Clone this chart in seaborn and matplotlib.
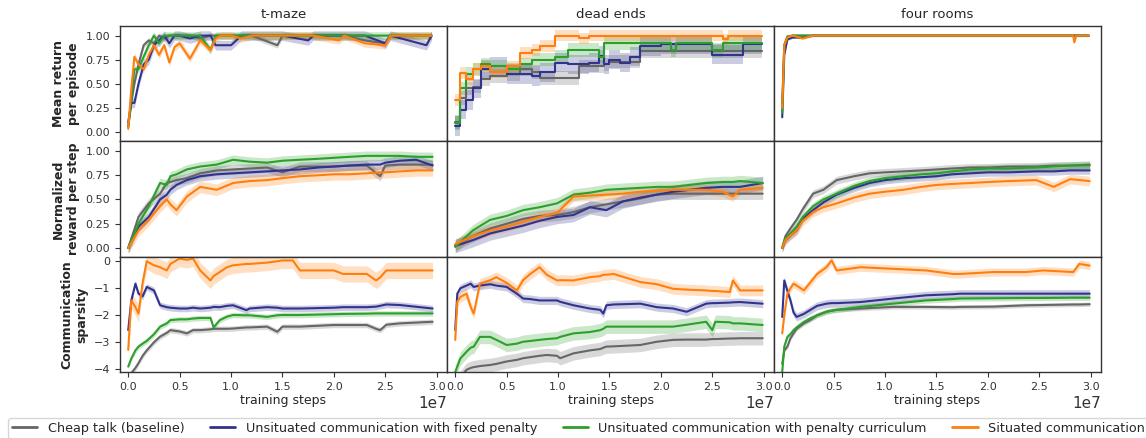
import numpy as np
import pandas as pd
import matplotlib
matplotlib.use("Agg")
import matplotlib.pyplot as plt
import seaborn as sns

# ---------------- labels ----------------
METHODS = ["Cheap talk (baseline)",
           "Unsituated communication with fixed penalty",
           "Unsituated communication with penalty curriculum",
           "Situated communication"]
COLORS = ["#666666", "#32338c", "#2ca02c", "#ff7f0e"]
ENVS = ["t-maze", "dead ends", "four rooms"]
METRICS = ["Mean return\nper episode", "Normalized\nreward per step", "Communication\nsparsity"]

# ---------------- data (x in units of 1e7 training steps) ----------------
# Row 1: mean return per episode
TM_RET_X = [0, 0.03, 0.06, 0.1, 0.15, 0.2, 0.25, 0.3, 0.35, 0.4, 0.45, 0.5, 0.6, 0.7, 0.8, 0.85,
            0.9, 1.0, 1.1, 1.2, 1.45, 1.5, 1.75, 1.8, 2.05, 2.1, 2.3, 2.5, 2.55, 2.9, 2.95]
TM_RET_CHEAP = [0.05, 0.3, 0.5, 0.7, 0.9, 0.95, 0.92, 1.0, 0.97, 1.0, 1.0, 1.0, 1.0, 0.97, 1.0, 1.0,
                1.0, 1.0, 1.0, 1.0, 0.9, 1.0, 1.0, 1.0, 1.0, 1.0, 0.95, 0.92, 1.0, 1.0, 1.0]
TM_RET_FIXED = [0.1, 0.3, 0.3, 0.5, 0.7, 0.75, 0.9, 0.95, 1.0, 0.92, 1.0, 1.0, 0.97, 1.0, 1.0, 0.9,
                0.9, 0.9, 1.0, 1.0, 1.0, 1.0, 0.95, 1.0, 1.0, 1.0, 1.0, 0.92, 1.0, 0.9, 1.0]
TM_RET_CURR = [0.05, 0.35, 0.65, 0.65, 0.78, 0.9, 1.0, 0.92, 1.0, 1.0, 1.0, 1.0, 1.0, 1.0, 0.85, 1.0,
               1.0, 1.0, 1.0, 1.0, 1.0, 1.0, 1.0, 1.0, 1.0, 1.0, 1.0, 1.0, 1.0, 1.0, 1.0]
TM_RET_SIT = [0.03, 0.45, 0.78, 0.7, 0.65, 0.8, 0.9, 0.8, 0.9, 0.72, 0.88, 0.92, 0.76, 0.95, 0.85, 0.97,
              1.0, 1.0, 0.97, 1.0, 1.0, 1.0, 1.0, 1.0, 0.95, 1.0, 0.92, 0.9, 1.0, 1.0, 1.0]
TM_RET_BAND = [0.03, 0.05, 0.04, 0.04]

DE_RET_X = [0, 0.05, 0.1, 0.17, 0.25, 0.34, 0.5, 0.63, 0.75, 0.82, 0.97, 1.1, 1.2, 1.3, 1.4, 1.45,
            1.5, 1.6, 1.7, 1.8, 2.0, 2.1, 2.15, 2.3, 2.5, 2.6, 2.65, 2.8, 2.98]
DE_RET_CHEAP = [0.1, 0.35, 0.45, 0.47, 0.55, 0.58, 0.6, 0.65, 0.62, 0.56, 0.56, 0.56, 0.68, 0.68, 0.68,
                0.7, 0.73, 0.73, 0.73, 0.84, 0.84, 0.84, 0.84, 0.84, 0.84, 0.84, 0.84, 0.84, 0.84]
DE_RET_FIXED = [0.06, 0.23, 0.33, 0.45, 0.65, 0.68, 0.6, 0.6, 0.58, 0.62, 0.72, 0.7, 0.7, 0.72, 0.79,
                0.7, 0.75, 0.72, 0.78, 0.89, 0.91, 0.91, 0.91, 0.91, 0.8, 0.8, 0.8, 0.91, 0.91]
DE_RET_CURR = [0.09, 0.45, 0.6, 0.65, 0.7, 0.68, 0.65, 0.7, 0.75, 0.75, 0.78, 0.85, 0.85, 0.85, 0.78,
               0.92, 0.92, 0.92, 0.92, 0.92, 0.92, 0.85, 0.92, 0.92, 0.85, 0.92, 0.92, 0.92, 0.92]
DE_RET_SIT = [0.33, 0.61, 0.55, 0.65, 0.68, 0.62, 0.68, 0.82, 0.85, 0.89, 1.0, 1.0, 0.97, 1.0, 1.0,
              1.0, 1.0, 1.0, 1.0, 1.0, 1.0, 1.0, 1.0, 1.0, 1.0, 0.96, 1.0, 1.0, 1.0]
DE_RET_BAND = [0.07, 0.1, 0.07, 0.06]

FR_RET_X = [0, 0.02, 0.05, 0.1, 0.2, 0.3, 0.5, 1.0, 1.5, 2.0, 2.5, 2.83, 2.84, 2.86, 2.98]
FR_RET_CHEAP = [0.3, 0.9, 0.99, 1.0, 1.0, 1.0, 1.0, 1.0, 1.0, 1.0, 1.0, 1.0, 1.0, 1.0, 1.0]
FR_RET_FIXED = [0.15, 0.8, 0.96, 0.98, 0.98, 1.0, 1.0, 1.0, 1.0, 1.0, 1.0, 1.0, 1.0, 1.0, 1.0]
FR_RET_CURR = [0.2, 0.9, 0.99, 1.0, 1.0, 1.0, 1.0, 1.0, 1.0, 1.0, 1.0, 1.0, 1.0, 1.0, 1.0]
FR_RET_SIT = [0.25, 0.9, 0.98, 1.0, 0.97, 1.0, 1.0, 1.0, 1.0, 1.0, 1.0, 1.0, 0.93, 1.0, 1.0]
FR_RET_BAND = [0.01, 0.01, 0.01, 0.01]

# Row 2: normalized reward per step
TM_NRM_X = [0, 0.1, 0.2, 0.31, 0.375, 0.41, 0.47, 0.57, 0.7, 0.86, 1.02, 1.18, 1.35, 1.5, 1.67,
            1.85, 2.0, 2.15, 2.32, 2.45, 2.5, 2.64, 2.8, 2.96]
TM_NRM_CHEAP = [0.0, 0.32, 0.46, 0.56, 0.67, 0.68, 0.7, 0.72, 0.77, 0.8, 0.81, 0.82, 0.83, 0.78, 0.84,
                0.84, 0.84, 0.85, 0.85, 0.74, 0.85, 0.86, 0.86, 0.86]
TM_NRM_FIXED = [0.0, 0.22, 0.32, 0.5, 0.55, 0.6, 0.65, 0.7, 0.74, 0.76, 0.77, 0.78, 0.79, 0.8, 0.81,
                0.83, 0.84, 0.85, 0.86, 0.86, 0.88, 0.9, 0.91, 0.85]
TM_NRM_CURR = [0.0, 0.25, 0.43, 0.67, 0.65, 0.74, 0.76, 0.81, 0.84, 0.86, 0.91, 0.89, 0.88, 0.9, 0.91,
               0.92, 0.93, 0.94, 0.95, 0.95, 0.95, 0.95, 0.94, 0.94]
TM_NRM_SIT = [0.0, 0.18, 0.29, 0.43, 0.5, 0.45, 0.39, 0.53, 0.63, 0.6, 0.67, 0.69, 0.7, 0.72, 0.74,
              0.75, 0.76, 0.76, 0.77, 0.78, 0.78, 0.79, 0.8, 0.8]
TM_NRM_BAND = [0.05, 0.05, 0.05, 0.06]

DE_NRM_X = [0.0, 0.17, 0.34, 0.5, 0.66, 0.82, 0.99, 1.15, 1.31, 1.47, 1.63, 1.8, 1.96, 2.12, 2.28,
            2.44, 2.6, 2.7, 2.77, 2.99]
DE_NRM_CHEAP = [0.03, 0.12, 0.2, 0.25, 0.3, 0.33, 0.34, 0.37, 0.42, 0.45, 0.48, 0.51, 0.55, 0.56, 0.56,
                0.56, 0.56, 0.56, 0.56, 0.56]
DE_NRM_FIXED = [0.02, 0.08, 0.15, 0.19, 0.23, 0.28, 0.32, 0.34, 0.42, 0.39, 0.48, 0.52, 0.55, 0.58, 0.6,
                0.62, 0.63, 0.63, 0.63, 0.67]
DE_NRM_CURR = [0.01, 0.18, 0.29, 0.33, 0.39, 0.42, 0.46, 0.55, 0.57, 0.6, 0.61, 0.62, 0.63, 0.63, 0.65,
               0.67, 0.68, 0.68, 0.69, 0.67]
DE_NRM_SIT = [0.04, 0.12, 0.18, 0.22, 0.27, 0.32, 0.36, 0.53, 0.54, 0.55, 0.56, 0.58, 0.59, 0.6, 0.6,
              0.6, 0.58, 0.53, 0.6, 0.62]
DE_NRM_BAND = [0.06, 0.07, 0.06, 0.05]

FR_NRM_X = [0.0, 0.03, 0.08, 0.14, 0.2, 0.3, 0.4, 0.53, 0.7, 0.85, 1.0, 1.18, 1.35, 1.5, 1.65, 1.83,
            2.0, 2.2, 2.47, 2.64, 2.8, 2.99]
FR_NRM_CHEAP = [0.0, 0.12, 0.2, 0.29, 0.4, 0.56, 0.6, 0.7, 0.74, 0.77, 0.78, 0.79, 0.8, 0.81, 0.82,
                0.83, 0.83, 0.84, 0.84, 0.85, 0.85, 0.86]
FR_NRM_FIXED = [0.0, 0.08, 0.13, 0.18, 0.3, 0.39, 0.47, 0.55, 0.62, 0.67, 0.7, 0.72, 0.73, 0.74, 0.76,
                0.77, 0.78, 0.78, 0.79, 0.79, 0.8, 0.8]
FR_NRM_CURR = [0.0, 0.1, 0.15, 0.22, 0.32, 0.43, 0.5, 0.56, 0.64, 0.69, 0.72, 0.74, 0.76, 0.77, 0.79,
               0.81, 0.82, 0.82, 0.83, 0.84, 0.85, 0.85]
FR_NRM_SIT = [0.0, 0.08, 0.13, 0.18, 0.28, 0.37, 0.42, 0.46, 0.52, 0.56, 0.58, 0.6, 0.63, 0.65, 0.66,
              0.67, 0.68, 0.69, 0.7, 0.63, 0.71, 0.69]
FR_NRM_BAND = [0.04, 0.04, 0.04, 0.05]

# Row 3: communication sparsity
TM_SPA_X = [0.0, 0.03, 0.07, 0.1, 0.14, 0.18, 0.25, 0.31, 0.375, 0.41, 0.5, 0.57, 0.63, 0.7, 0.8, 0.83,
            0.89, 0.96, 1.02, 1.15, 1.18, 1.35, 1.45, 1.5, 1.6, 1.67, 2.0, 2.09, 2.32, 2.41, 2.45,
            2.51, 2.64, 2.96]
TM_SPA_CHEAP = [-4.3, -4.14, -3.95, -3.77, -3.5, -3.3, -3.0, -2.79, -2.65, -2.55, -2.6, -2.67, -2.55,
                -2.55, -2.52, -2.5, -2.5, -2.5, -2.49, -2.45, -2.45, -2.42, -2.61, -2.42, -2.42,
                -2.42, -2.36, -2.36, -2.36, -2.5, -2.55, -2.35, -2.3, -2.24]
TM_SPA_FIXED = [-2.55, -1.45, -0.83, -1.2, -1.3, -0.95, -1.08, -1.63, -1.7, -1.72, -1.75, -1.75, -1.72,
                -1.75, -1.72, -1.69, -1.7, -1.65, -1.63, -1.81, -1.75, -1.7, -1.72, -1.75, -1.75,
                -1.75, -1.72, -1.7, -1.7, -1.68, -1.65, -1.6, -1.62, -1.75]
TM_SPA_CURR = [-3.9, -3.6, -3.3, -3.16, -3.05, -2.95, -2.7, -2.42, -2.3, -2.18, -2.15, -2.15, -2.12,
               -2.1, -2.1, -2.45, -2.18, -2.05, -1.99, -2.0, -2.0, -2.06, -2.0, -1.99, -1.99, -1.99,
               -1.96, -1.95, -1.94, -1.93, -1.93, -1.93, -1.93, -1.93]
TM_SPA_SIT = [-3.28, -1.45, -1.7, -1.94, -0.8, 0.0, -0.15, -0.22, -0.34, -0.1, 0.1, 0.05, 0.1, -0.34,
              -0.71, -0.55, -0.4, -0.22, -0.15, -0.1, -0.1, -0.05, 0.0, 0.03, 0.03, -0.34, -0.34,
              -0.47, -0.47, -0.71, -0.6, -0.34, -0.34, -0.34]
TM_SPA_BAND = [0.1, 0.12, 0.1, 0.3]

DE_SPA_X = [0.0, 0.02, 0.05, 0.11, 0.15, 0.18, 0.24, 0.34, 0.4, 0.5, 0.6, 0.66, 0.73, 0.82, 0.89, 0.99,
            1.02, 1.15, 1.31, 1.41, 1.44, 1.47, 1.54, 1.8, 1.96, 2.12, 2.25, 2.44, 2.5, 2.53, 2.67,
            2.7, 2.77, 2.99]
DE_SPA_CHEAP = [-4.6, -4.5, -4.3, -4.02, -3.95, -3.92, -3.88, -3.84, -3.8, -3.71, -3.65, -3.59, -3.55,
                -3.5, -3.47, -3.5, -3.59, -3.41, -3.3, -3.25, -3.2, -3.16, -3.15, -3.1, -2.98, -2.91,
                -2.9, -2.9, -2.88, -2.88, -2.86, -2.86, -2.85, -2.85]
DE_SPA_FIXED = [-2.55, -1.2, -1.0, -0.9, -0.83, -0.95, -0.9, -0.85, -0.9, -0.95, -1.2, -1.38, -1.4,
                -1.45, -1.45, -1.45, -1.5, -1.63, -1.75, -1.8, -1.94, -1.63, -1.6, -1.57, -1.7, -1.75,
                -1.87, -1.57, -1.55, -1.55, -1.53, -1.52, -1.51, -1.57]
DE_SPA_CURR = [-4.1, -3.9, -3.6, -3.35, -3.2, -3.16, -2.8, -2.8, -2.91, -3.1, -3.05, -2.98, -2.95,
               -2.91, -2.88, -2.85, -2.8, -2.67, -2.62, -2.55, -2.5, -2.42, -2.42, -2.42, -2.42, -2.42,
               -2.35, -2.24, -2.55, -2.24, -2.26, -2.3, -2.3, -2.36]
DE_SPA_SIT = [-2.91, -1.5, -1.32, -1.2, -1.69, -1.94, -0.83, -0.7, -0.59, -0.8, -1.08, -0.7, -0.47,
              -0.22, -0.5, -0.71, -0.7, -0.71, -0.59, -0.55, -0.5, -0.5, -0.47, -0.77, -0.85, -1.02,
              -1.05, -1.08, -1.1, -1.1, -1.14, -0.71, -1.08, -1.08]
DE_SPA_BAND = [0.25, 0.15, 0.25, 0.2]

FR_SPA_X = [0.0, 0.02, 0.05, 0.08, 0.11, 0.14, 0.21, 0.27, 0.34, 0.43, 0.48, 0.53, 0.76, 1.08, 1.4,
            1.66, 1.73, 2.05, 2.37, 2.54, 2.83, 2.89, 2.99]
FR_SPA_CHEAP = [-3.8, -3.3, -3.16, -2.85, -2.67, -2.5, -2.3, -2.18, -2.0, -1.87, -1.83, -1.8, -1.75,
                -1.69, -1.69, -1.7, -1.69, -1.68, -1.63, -1.62, -1.6, -1.6, -1.59]
FR_SPA_FIXED = [-2.06, -0.71, -1.1, -1.45, -1.9, -2.06, -1.95, -1.81, -1.65, -1.57, -1.55, -1.55,
                -1.51, -1.38, -1.26, -1.22, -1.2, -1.2, -1.2, -1.2, -1.2, -1.2, -1.2]
FR_SPA_CURR = [-4.1, -3.16, -2.8, -2.7, -2.55, -2.45, -2.25, -2.12, -2.0, -1.87, -1.83, -1.8, -1.69,
               -1.57, -1.45, -1.4, -1.38, -1.37, -1.36, -1.36, -1.35, -1.35, -1.35]
FR_SPA_SIT = [-2.67, -2.0, -1.2, -1.0, -0.83, -0.9, -1.08, -0.8, -0.47, -0.22, 0.03, -0.34, -0.22,
              -0.28, -0.34, -0.47, -0.47, -0.4, -0.4, -0.34, -0.4, -0.1, -0.16]
FR_SPA_BAND = [0.08, 0.15, 0.1, 0.15]

PANELS = [
    [(TM_RET_X, [TM_RET_CHEAP, TM_RET_FIXED, TM_RET_CURR, TM_RET_SIT], TM_RET_BAND),
     (DE_RET_X, [DE_RET_CHEAP, DE_RET_FIXED, DE_RET_CURR, DE_RET_SIT], DE_RET_BAND),
     (FR_RET_X, [FR_RET_CHEAP, FR_RET_FIXED, FR_RET_CURR, FR_RET_SIT], FR_RET_BAND)],
    [(TM_NRM_X, [TM_NRM_CHEAP, TM_NRM_FIXED, TM_NRM_CURR, TM_NRM_SIT], TM_NRM_BAND),
     (DE_NRM_X, [DE_NRM_CHEAP, DE_NRM_FIXED, DE_NRM_CURR, DE_NRM_SIT], DE_NRM_BAND),
     (FR_NRM_X, [FR_NRM_CHEAP, FR_NRM_FIXED, FR_NRM_CURR, FR_NRM_SIT], FR_NRM_BAND)],
    [(TM_SPA_X, [TM_SPA_CHEAP, TM_SPA_FIXED, TM_SPA_CURR, TM_SPA_SIT], TM_SPA_BAND),
     (DE_SPA_X, [DE_SPA_CHEAP, DE_SPA_FIXED, DE_SPA_CURR, DE_SPA_SIT], DE_SPA_BAND),
     (FR_SPA_X, [FR_SPA_CHEAP, FR_SPA_FIXED, FR_SPA_CURR, FR_SPA_SIT], FR_SPA_BAND)],
]

YLIMS = [(-0.10, 1.10), (-0.09, 1.10), (-4.1, 0.17)]
YTICKS = [[0, 0.25, 0.5, 0.75, 1.0], [0, 0.25, 0.5, 0.75, 1.0], [0, -1, -2, -3, -4]]
XTICKS = [0, 0.5, 1.0, 1.5, 2.0, 2.5, 3.0]

# ---------------- plotting ----------------
sns.set_style("ticks")
plt.rcParams["font.family"] = ["DejaVu Sans"]
plt.rcParams["axes.edgecolor"] = "#333333"
plt.rcParams["axes.linewidth"] = 1.0

fig, axes = plt.subplots(3, 3, figsize=(11.46, 4.38), dpi=100, sharex=True, sharey="row")
fig.subplots_adjust(left=120 / 1146, right=1101 / 1146, top=1 - 26 / 438, bottom=1 - 372 / 438,
                    wspace=0, hspace=0)

for r in range(3):
    for c in range(3):
        ax = axes[r, c]
        xs, series, bands = PANELS[r][c]
        x = np.asarray(xs) * 1e7
        frames = []
        for name, vals in zip(METHODS, series):
            frames.append(pd.DataFrame({"step": x, "value": vals, "method": name}))
        df = pd.concat(frames, ignore_index=True)
        stepped = (r == 0 and c == 1)
        ds = "steps-post" if stepped else "default"
        for k, name in enumerate(METHODS):
            y = np.asarray(series[k])
            ax.fill_between(x, y - bands[k], y + bands[k], color=COLORS[k], alpha=0.25, lw=0,
                            step="post" if stepped else None)
        sns.lineplot(data=df, x="step", y="value", hue="method", hue_order=METHODS,
                     palette=COLORS, errorbar=None, legend=False, ax=ax, lw=1.5,
                     drawstyle=ds, estimator=None, sort=False)
        ax.set_ylim(*YLIMS[r])
        ax.set_xlim(-0.08e7, 3.1e7)
        ax.set_yticks(YTICKS[r])
        ax.set_xticks(np.asarray(XTICKS) * 1e7)
        ax.set_ylabel("")
        ax.set_xlabel("")
        ax.tick_params(labelsize=8, length=3.5, width=0.8, colors="#333333")
        if c != 0:
            ax.tick_params(axis="y", left=False, labelleft=False)
        if r != 2:
            ax.tick_params(axis="x", bottom=False, labelbottom=False)
        else:
            ax.set_xlabel("training steps", fontsize=9, labelpad=2)
            ax.xaxis.get_offset_text().set_fontsize(11)
        if r == 0:
            ax.set_title(ENVS[c], fontsize=9.5)
        if c == 0:
            ax.set_ylabel(METRICS[r], fontsize=9, fontweight="bold")
        for sp in ax.spines.values():
            sp.set_visible(True)

handles = [plt.Line2D([], [], color=col, lw=2) for col in COLORS]
fig.legend(handles, METHODS, loc="upper left", bbox_to_anchor=(8 / 1146, 1 - 418 / 438),
           ncol=4, fontsize=9.2, frameon=True, columnspacing=2.0, borderaxespad=0,
           handlelength=2.0, borderpad=0.3)

fig.savefig("out.png", dpi=100)
